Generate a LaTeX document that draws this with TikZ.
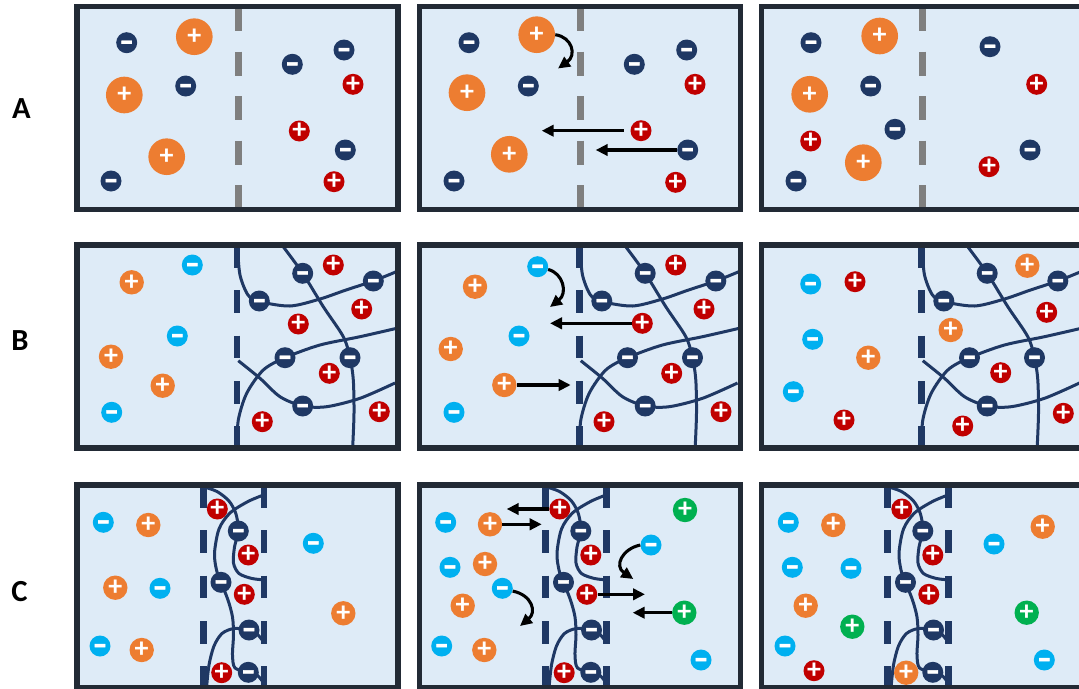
\documentclass[tikz,border=0pt]{standalone}
\usepackage{fontspec}
\setmainfont{Carlito}
\newfontfamily\minusfont{Carlito}[FakeStretch=1.4, FakeBold=1.5]
\usetikzlibrary{arrows.meta}

\definecolor{navyc}{HTML}{1F3864}
\definecolor{orangec}{HTML}{ED7D31}
\definecolor{redc}{HTML}{C00000}
\definecolor{cyanc}{HTML}{00B0F0}
\definecolor{greenc}{HTML}{00B050}
\definecolor{framec}{HTML}{222A35}
\definecolor{panelfill}{HTML}{DEEBF7}
\definecolor{membrgray}{HTML}{7F7F7F}

\newcommand\plussize{\bfseries\fontsize{21}{21}\selectfont}
\newcommand\minussize{\minusfont\bfseries\fontsize{22}{22}\selectfont}
% minus sign set on the optical centre of its ion
\newcommand\minussign{\smash{\raisebox{-0.27em}{-}}}

\tikzset{
  ionbase/.style={circle, inner sep=0pt, text=white},
  navyion/.style={ionbase, fill=navyc, minimum size=15.75pt, font=\minussize},
  cyanion/.style={ionbase, fill=cyanc, minimum size=15.75pt, font=\minussize},
  redion/.style={ionbase, fill=redc, minimum size=15.75pt, font=\plussize},
  bigorange/.style={ionbase, fill=orangec, minimum size=27.5pt, font=\plussize},
  orangeion/.style={ionbase, fill=orangec, minimum size=18.3pt, font=\plussize},
  greenion/.style={ionbase, fill=greenc, minimum size=18.3pt, font=\plussize},
  framestyle/.style={draw=framec, line width=4.1pt},
  graymembrane/.style={draw=membrgray, line width=5.25pt, dash pattern=on 18pt off 15.4pt},
  navymembrane/.style={draw=navyc, line width=5pt, dash pattern=on 17pt off 17pt},
  chain/.style={draw=navyc, line width=2.25pt},
  arr/.style={-{Triangle[length=9pt,width=8.5pt]}, line width=2.3pt, draw=black},
  rowlabel/.style={font=\bfseries\fontsize{23}{23}\selectfont, text=black},
}

% one row of ions of a single kind: style, name prefix, sign, positions
\newcommand\ionrow[4]{\foreach \p [count=\i] in {#4} \node[#1] (#2\i) at \p {#3};}

% polymer chains of the fixed-charge gel (row B)
\newcommand\gelchains{
  \draw[chain] plot[smooth] coordinates {(237.5,247) (240,275) (248,295) (259.3,301.5) (290,306) (320,299) (346,290) (373.3,281) (398,271)};
  \draw[chain] plot[smooth] coordinates {(282.7,246) (302.7,273.3) (323.3,306.7) (343.3,336.7) (350,357.7) (353.3,380) (354,413.3) (352.7,447)};
  \draw[chain] plot[smooth] coordinates {(398,328) (360,336.7) (320,345) (285,357.7) (263.3,370) (246.7,393.3) (238.3,420) (237,447)};
  \draw[chain] plot[smooth] coordinates {(238.3,360.7) (260,378.3) (280,396.7) (302.7,406) (326.7,406.7) (360,398.3) (395,383)};
}

% chains held between the two membranes (row C)
\newcommand\layerchains{
  \draw[chain] plot[smooth] coordinates {(203.3,486.7) (217,491.5) (229,501) (236,514) (238.3,531) (234.5,547) (233.5,563) (239,573.5) (252,578.5) (266,580)};
  \draw[chain] plot[smooth] coordinates {(263.5,495) (248,501.5) (230,513) (219,529) (214.5,553) (216.5,570) (221,582.3) (228,600) (232.5,617) (233.5,635) (232.5,655) (235,668) (248.3,672.3)};
  \draw[chain] plot[smooth] coordinates {(206.5,688) (209,665) (214,646) (222,633.5) (234,628.5) (249,630) (257,634) (263,641)};
  \draw[chain] plot[smooth] coordinates {(248.3,672.3) (257,675) (263,682)};
}

\begin{document}
\begin{tikzpicture}[x=0.75pt, y=-0.75pt]
\clip (0,0) rectangle (1079,689);

% panel backgrounds
\foreach \cx in {77,419.5,761.5}
  \foreach \cy in {6.7,245,485}
    \fill[panelfill] (\cx,\cy) rectangle ++(321,203);

% row labels
\node[rowlabel] (la) at (21.5,109) {A};
\node[rowlabel] (lb) at (20,341) {B};
\node[rowlabel] (lc) at (19.5,592) {C};

% membranes
\foreach \dx in {0,342.5,684.5} {
  \draw[graymembrane] (238+\dx,7) -- (238+\dx,209.5);
  \draw[navymembrane] (237+\dx,245) -- (237+\dx,448.3);
  \draw[navymembrane] (203.3+\dx,485) -- (203.3+\dx,690);
  \draw[navymembrane] (264+\dx,485) -- (264+\dx,690);
}

% polymer chains
\foreach \dx in {0,342.5,684.5} {
  \begin{scope}[shift={(\dx,0)}]
    \gelchains
    \layerchains
  \end{scope}
}

% ---------- row A ----------
\ionrow{navyion}{a1n}{\minussign}{(126.7,42.7),(185.7,86),(111,181),(292.3,64.3),(344,50),(345.3,150)}
\ionrow{bigorange}{a1o}{+}{(194.3,36.7),(124.3,95),(166.7,156.7)}
\ionrow{redion}{a1r}{+}{(353,84.3),(299.3,131),(334,181.7)}

\ionrow{navyion}{a2n}{\minussign}{(469,42.7),(528.3,86),(454,181),(634.3,64.3),(686.7,50),(687.7,150)}
\ionrow{bigorange}{a2o}{+}{(536.7,34.7),(467,92.7),(509.3,154.3)}
\ionrow{redion}{a2r}{+}{(695,84.3),(641,130.7),(675.7,182.3)}

\ionrow{navyion}{a3n}{\minussign}{(811,42.7),(870.7,86),(895,129.3),(796,181),(990,46.7),(1030,150)}
\ionrow{bigorange}{a3o}{+}{(879.7,36),(809.7,94.3),(863.3,162.7)}
\ionrow{redion}{a3r}{+}{(810.7,141),(1036.7,84.3),(989,166.7)}

% ---------- row B ----------
\ionrow{cyanion}{b1c}{\minussign}{(192.3,265),(177.3,336),(111.7,412.3)}
\ionrow{orangeion}{b1o}{+}{(131.7,282.3),(111,356.7),(162.7,385.7)}
\ionrow{navyion}{b1n}{\minussign}{(302.7,273.3),(259.3,301),(373.3,281),(285,357.7),(350,357.7),(302.7,406)}
\ionrow{redion}{b1r}{+}{(333.3,265),(361.7,309),(298.3,324),(329.3,373.3),(379.3,411.7),(262.3,421.7)}

\ionrow{cyanion}{b2c}{\minussign}{(537.7,266.7),(519,336),(454,412.3)}
\ionrow{orangeion}{b2o}{+}{(475,286.7),(450.7,349),(504.3,385)}
\ionrow{navyion}{b2n}{\minussign}{(645.2,273.3),(601.8,301),(715.8,281),(627.5,357.7),(692.5,357.7),(645.2,406)}
\ionrow{redion}{b2r}{+}{(675.7,265),(704,309),(642.3,323.3),(671.7,373.3),(721,411.7),(604,421.7)}

\ionrow{cyanion}{b3c}{\minussign}{(810.7,284),(812.7,339.3),(793.3,391.7)}
\ionrow{orangeion}{b3o}{+}{(868.3,357.7),(1027.3,265.7),(950.7,330)}
\ionrow{navyion}{b3n}{\minussign}{(987.2,273.3),(943.8,301),(1057.8,281),(969.5,357.7),(1034.5,357.7),(987.2,406)}
\ionrow{redion}{b3r}{+}{(855,281.7),(844,420),(1046.7,312.3),(1000.7,372.7),(1063.3,413.3),(962.7,426)}

% ---------- row C ----------
\ionrow{cyanion}{c1c}{\minussign}{(103.3,522.3),(160,588.3),(100,646),(313.3,543.3)}
\ionrow{orangeion}{c1o}{+}{(148.3,525),(115.3,587.7),(141.7,650),(343.3,613.3)}
\ionrow{redion}{c1r}{+}{(217.3,509),(248.3,555),(244.3,594.3),(221.7,672.7)}
\ionrow{navyion}{c1n}{\minussign}{(238.3,531),(221,582.3),(249,630),(248.3,672.3)}

\ionrow{cyanion}{c2c}{\minussign}{(445.7,522.3),(450,567.3),(502.3,588.3),(441.7,646),(651,545),(701,660)}
\ionrow{orangeion}{c2o}{+}{(490,524.3),(485,564),(462.7,605.7),(484.3,650)}
\ionrow{greenion}{c2g}{+}{(685,510),(684.3,612.7)}
\ionrow{redion}{c2r}{+}{(559.8,509),(590.8,555),(586.8,594.3),(564.2,672.7)}
\ionrow{navyion}{c2n}{\minussign}{(580.8,531),(563.5,582.3),(591.5,630),(590.8,672.3)}

\ionrow{cyanion}{c3c}{\minussign}{(788.3,522.3),(792.3,567.3),(851,568.3),(785,646),(994,544),(1044.3,660)}
\ionrow{orangeion}{c3o}{+}{(833.3,525),(805.7,605.7),(1042.7,526.7),(906.2,672.7)}
\ionrow{greenion}{c3g}{+}{(852.3,626.7),(1026.7,612.7)}
\ionrow{redion}{c3r}{+}{(814,670.7),(901.8,509),(932.8,555),(928.8,594.3)}
\ionrow{navyion}{c3n}{\minussign}{(922.8,531),(905.5,582.3),(933.5,630),(932.8,672.3)}

% ---------- movement arrows ----------
\coordinate (a2e1) at (558,68.5);
\coordinate (a2e2) at (541.7,130.7);
\coordinate (a2e3) at (595.7,150);
\draw[arr] (a2o1.east) .. controls (572,37) and (577,55) .. (a2e1);
\draw[arr, shorten <=5pt] (a2r2.west) -- (a2e2);
\draw[arr] (a2n6.west) -- (a2e3);

\coordinate (b2e1) at (550,307);
\coordinate (b2e2) at (550,323.3);
\coordinate (b2e3) at (570.7,385);
\draw[arr] (b2c1.-15) .. controls (563,273) and (568,293) .. (b2e1);
\draw[arr] (b2r3.west) -- (b2e2);
\draw[arr] (b2o3.east) -- (b2e3);

\coordinate (c2e1) at (506.7,509);
\coordinate (c2e2) at (541.7,524.3);
\coordinate (c2e3) at (520,626);
\coordinate (c2e4) at (633.3,579);
\coordinate (c2e5) at (645,594.3);
\coordinate (c2e6) at (632.7,612.7);
\draw[arr] (c2r1.west) -- (c2e1);
\draw[arr] (c2o1.east) -- (c2e2);
\draw[arr] (c2c3.-15) .. controls (532,595) and (537,612) .. (c2e3);
\draw[arr] (c2c5.west) .. controls (622,549) and (614,566) .. (c2e4);
\draw[arr] (c2r3.east) -- (c2e5);
\draw[arr] (c2g2.west) -- (c2e6);

% panel frames
\foreach \cx in {77,419.5,761.5}
  \foreach \cy in {6.7,245,485}
    \draw[framestyle] (\cx,\cy) rectangle ++(321,203);
\end{tikzpicture}
\end{document}
